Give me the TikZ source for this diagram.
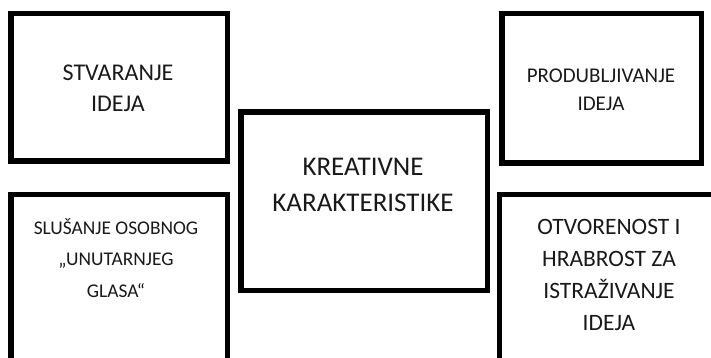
\documentclass[tikz,border=0pt]{standalone}
\usepackage{fontspec}
\setmainfont{Carlito}
\begin{document}
\begin{tikzpicture}[x=1pt,y=-1pt,
  boxline/.style={draw=black,line width=5.5pt,line join=miter},
  txt/.style={align=center,inner sep=0pt,text=black!90}]
\useasboundingbox (0,0) rectangle (711,358);
\clip (0,0) rectangle (711,358);
% boxes
\draw[boxline] (11,13.75) rectangle (227.5,161);
\draw[boxline] (502,13.75) rectangle (701.5,163);
\draw[boxline] (241,112) rectangle (487.5,290.5);
\draw[boxline] (11,194.5) rectangle (227.5,380);
\draw[boxline] (499.5,194.5) rectangle (725,380);
% texts
\node[txt,font=\fontsize{24}{31}\selectfont] (tl) at (118,88) {STVARANJE\\IDEJA};
\node[txt,font=\fontsize{21}{28}\selectfont] (tr) at (601,90) {PRODUBLJIVANJE\\IDEJA};
\node[txt,font=\fontsize{27}{36}\selectfont] (c) at (363,185) {KREATIVNE\\KARAKTERISTIKE};
\node[txt,font=\fontsize{19.4}{31.5}\selectfont] (bl) at (116,258) {SLUŠANJE OSOBNOG\\„UNUTARNJEG\\GLASA“};
\node[txt,font=\fontsize{23.5}{32}\selectfont] (br) at (609,275) {OTVORENOST I\\HRABROST ZA\\ISTRAŽIVANJE\\IDEJA};
\end{tikzpicture}
\end{document}
